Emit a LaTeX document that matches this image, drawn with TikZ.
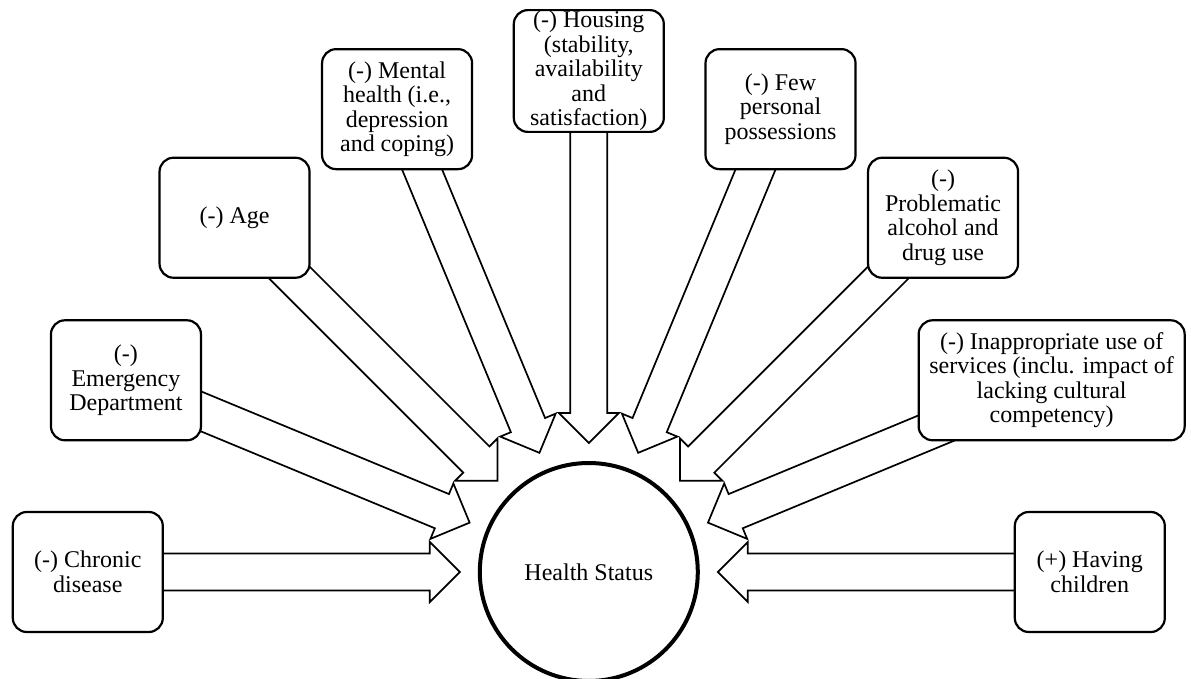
\documentclass[tikz,border=0pt]{standalone}
\usepackage{fontspec}
\setmainfont{Liberation Serif}
\usetikzlibrary{calc,backgrounds}

% hollow block arrow from a factor box to the central circle
\newcommand\factorarrow[1]{%
  \coordinate (tip) at ($(hs.center)!129pt!(#1.center)$);
  \coordinate (hb) at ($(hs.center)!159pt!(#1.center)$);
  \draw[blockarrow]
    ($(#1.center)!18.5pt!90:(hs.center)$) --
    ($(hb)!18.5pt!90:(hs.center)$) --
    ($(hb)!30pt!90:(hs.center)$) --
    (tip) --
    ($(hb)!30pt!-90:(hs.center)$) --
    ($(hb)!18.5pt!-90:(hs.center)$) --
    ($(#1.center)!18.5pt!-90:(hs.center)$) -- cycle;
}

\begin{document}
\begin{tikzpicture}[x=1pt,y=-1pt,
  txt/.style={font=\fontsize{24}{24.5}\selectfont},
  factor/.style={txt, draw=black, line width=2.2pt, rounded corners=14pt,
    fill=white, minimum width=150pt, minimum height=120pt, align=center,
    inner sep=1pt},
  centre/.style={txt, draw=black, line width=4pt, circle, fill=white,
    minimum size=218pt, inner sep=0pt},
  blockarrow/.style={draw=black, line width=1.7pt, fill=white, line join=miter}]

\useasboundingbox (0,0) rectangle (1191,679);

\node[centre] (hs) at (588.8,572) {Health Status};

\node[factor] (chronic) at ($(hs.center)+(180:501)$) {(-) Chronic\\disease};
\node[factor] (ed) at ($(hs.center)+(202.5:501)$) {(-)\\Emergency\\Department};
\node[factor] (age) at ($(hs.center)+(225:501)$) {(-) Age};
\node[factor] (mental) at ($(hs.center)+(247.5:501)$) {(-) Mental\\health (i.e.,\\depression\\and coping)};
\node[factor] (housing) at ($(hs.center)+(270:501)$) {(-) Housing\\(stability,\\availability\\and\\satisfaction)};
\node[factor] (few) at ($(hs.center)+(292.5:501)$) {(-) Few\\personal\\possessions};
\node[factor] (alcohol) at ($(hs.center)+(315:501)$) {(-)\\Problematic\\alcohol and\\drug use};
\node[factor, minimum width=266pt] (services) at ($(hs.center)+(337.5:501)$) {(-) Inappropriate use of\\services (inclu. impact of\\lacking cultural\\competency)};
\node[factor] (children) at ($(hs.center)+(0:501)$) {(+) Having\\children};

\begin{pgfonlayer}{background}
  \foreach \b in {chronic,ed,age,mental,housing,few,alcohol,services,children}
    {\factorarrow{\b}}
\end{pgfonlayer}
\end{tikzpicture}
\end{document}
